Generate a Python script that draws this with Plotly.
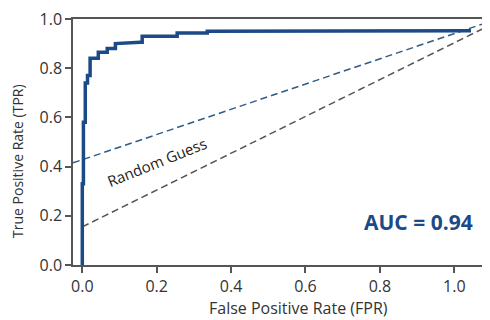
import plotly.graph_objects as go

# ROC curve vertices (FPR, TPR)
roc_fpr = [0.0, 0.0, 0.003, 0.003, 0.008, 0.008, 0.014, 0.014, 0.021, 0.021,
           0.043, 0.043, 0.067, 0.067, 0.089, 0.089, 0.156, 0.161, 0.161,
           0.255, 0.255, 0.336, 0.336, 1.045]
roc_tpr = [0.0, 0.33, 0.33, 0.58, 0.58, 0.74, 0.74, 0.77, 0.77, 0.84,
           0.84, 0.865, 0.865, 0.88, 0.88, 0.90, 0.905, 0.905, 0.93,
           0.93, 0.943, 0.943, 0.95, 0.952]

# dashed reference lines
guess_upper_x = [-0.025, 1.096]
guess_upper_y = [0.415, 0.99]
guess_lower_x = [0.0, 1.096]
guess_lower_y = [0.155, 0.975]

x_ticks = [0.0, 0.2, 0.4, 0.6, 0.8, 1.0]
y_ticks = [0.0, 0.2, 0.4, 0.6, 0.8, 1.0]

auc_label = "AUC = 0.94"
guess_label = "Random Guess"
x_title = "False Positive Rate (FPR)"
y_title = "True Positive Rate (TPR)"

BLUE = "#1b4a86"
FONT = "Open Sans"

fig = go.Figure()
fig.add_trace(go.Scatter(x=guess_upper_x, y=guess_upper_y, mode="lines",
                         line=dict(color="#2f5b86", width=1.5, dash="7px,4px"),
                         hoverinfo="skip"))
fig.add_trace(go.Scatter(x=guess_lower_x, y=guess_lower_y, mode="lines",
                         line=dict(color="#555555", width=1.5, dash="7px,4px"),
                         hoverinfo="skip"))
fig.add_trace(go.Scatter(x=roc_fpr, y=roc_tpr, mode="lines",
                         line=dict(color=BLUE, width=3.5)))

fig.add_annotation(x=0.20, y=0.42, text=guess_label, showarrow=False,
                   textangle=-22, font=dict(family=FONT, size=15, color="#222222"))
fig.add_annotation(x=0.905, y=0.175, text="<b>" + auc_label + "</b>", showarrow=False,
                   font=dict(family=FONT, size=21, color=BLUE))

# axis titles as paper-anchored annotations
fig.add_annotation(xref="paper", yref="paper", x=0.54, y=0, yshift=-43,
                   yanchor="middle", text=x_title, showarrow=False,
                   font=dict(family=FONT, size=16, color="#333333"))
fig.add_annotation(xref="paper", yref="paper", x=0, xshift=-55, y=0.423,
                   xanchor="center", textangle=-90, text=y_title, showarrow=False,
                   borderpad=0,
                   font=dict(family=FONT, size=14, color="#333333"))

axis_common = dict(showgrid=False, zeroline=False, showline=True,
                   linecolor="#555555", linewidth=1.5, ticks="outside",
                   ticklen=6, tickwidth=1.5, tickcolor="#555555", automargin=False,
                   ticklabeloverflow="allow",
                   tickfont=dict(family=FONT, size=16, color="#333333"))

# page body has an 8px margin, so the figure is 8px smaller than the window
fig.update_layout(
    width=482, height=312,
    margin=dict(l=65, r=0, t=11, b=55),
    paper_bgcolor="white", plot_bgcolor="white",
    showlegend=False,
    xaxis=dict(range=[-0.025, 1.096], tickvals=x_ticks,
               ticktext=[f"{v:.1f}" for v in x_ticks], mirror=True,
               **axis_common),
    yaxis=dict(range=[0, 1.0], tickvals=y_ticks,
               ticktext=[f"{v:.1f}" for v in y_ticks],
               **axis_common),
)

fig.write_html("out.html")
